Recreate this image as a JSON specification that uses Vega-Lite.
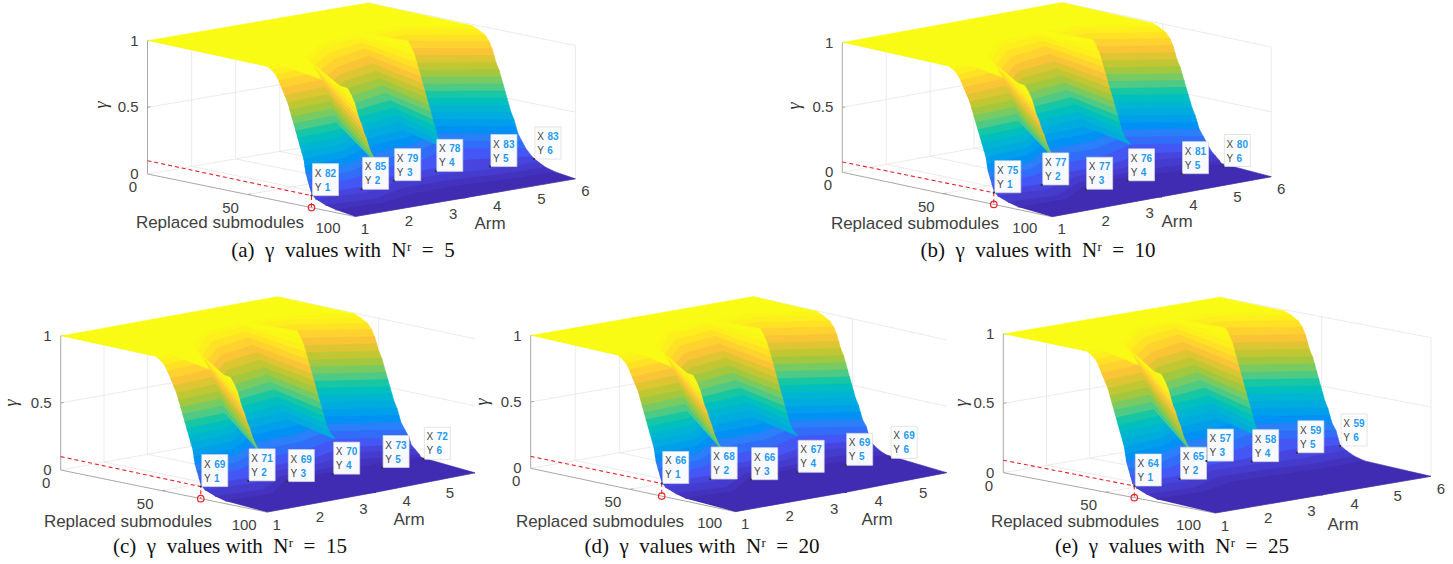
{"$schema":"https://vega.github.io/schema/vega-lite/v6.json","width":1453,"height":564,"padding":0,"autosize":{"type":"none"},"background":"white","config":{"view":{"stroke":null}},
"params":[{"name":"cam","value":{
"a":{"x":147.5,"y":174,"ax":44.1,"ay":-7.54,"sx":2,"sy":0.41,"z":133.3,"m":103.7,"clip":1453,"st":[220,223],"at":[490,224],"gt":[102,105],"cap":[343,251]},
"b":{"x":842.3,"y":172.3,"ax":43.9,"ay":-8,"sx":2.02,"sy":0.428,"z":129.7,"m":103.7,"clip":1453,"st":[915,224],"at":[1177,222],"gt":[795,106],"cap":[1038,251]},
"c":{"x":60.7,"y":470,"ax":43.3,"ay":-7.86,"sx":2.03,"sy":0.415,"z":134,"m":101.5,"clip":475,"st":[128,522],"at":[409,520],"gt":[12,403],"cap":[230,547]},
"d":{"x":530.7,"y":468.3,"ax":44.5,"ay":-7.8,"sx":1.985,"sy":0.421,"z":132.7,"m":103,"clip":946.7,"st":[600,522],"at":[877,520],"gt":[483,402],"cap":[702,547]},
"e":{"x":1003.3,"y":472.7,"ax":43.2,"ay":-7.34,"sx":2.047,"sy":0.39,"z":138.7,"m":103.4,"clip":1453,"st":[1075,522],"at":[1343,525],"gt":[962,403],"cap":[1172,547]}}}],
"datasets":{
"levels":[
{"panel":"a","gamma":1,"arm1":0,"arm2":0,"arm3":0,"arm4":0,"arm5":0,"arm6":0},
{"panel":"a","gamma":0.99,"arm1":60,"arm2":57,"arm3":42,"arm4":38,"arm5":36,"arm6":52},
{"panel":"a","gamma":0.97,"arm1":62,"arm2":59,"arm3":44,"arm4":39.5,"arm5":38,"arm6":55},
{"panel":"a","gamma":0.94,"arm1":64,"arm2":61,"arm3":47,"arm4":41,"arm5":40,"arm6":58.5},
{"panel":"a","gamma":0.9,"arm1":65.5,"arm2":63,"arm3":49.5,"arm4":42.5,"arm5":42,"arm6":60.5},
{"panel":"a","gamma":0.85,"arm1":67,"arm2":65,"arm3":51.5,"arm4":44.5,"arm5":44,"arm6":62},
{"panel":"a","gamma":0.8,"arm1":68.5,"arm2":66.5,"arm3":53,"arm4":46.5,"arm5":45.5,"arm6":63},
{"panel":"a","gamma":0.75,"arm1":70,"arm2":68,"arm3":54.5,"arm4":48,"arm5":46.5,"arm6":64},
{"panel":"a","gamma":0.7,"arm1":71,"arm2":69.5,"arm3":56,"arm4":50,"arm5":47.5,"arm6":65.5},
{"panel":"a","gamma":0.65,"arm1":72,"arm2":70.5,"arm3":58,"arm4":51.5,"arm5":48.5,"arm6":66.5},
{"panel":"a","gamma":0.6,"arm1":73,"arm2":71.5,"arm3":59.5,"arm4":53,"arm5":49.5,"arm6":67.5},
{"panel":"a","gamma":0.55,"arm1":74,"arm2":72.5,"arm3":60.5,"arm4":55,"arm5":50.5,"arm6":68.5},
{"panel":"a","gamma":0.5,"arm1":75,"arm2":73.5,"arm3":61.5,"arm4":57,"arm5":51.5,"arm6":69.5},
{"panel":"a","gamma":0.45,"arm1":76,"arm2":74.5,"arm3":63,"arm4":58.5,"arm5":52.5,"arm6":70.5},
{"panel":"a","gamma":0.4,"arm1":77,"arm2":75.5,"arm3":64,"arm4":60,"arm5":53.5,"arm6":71.5},
{"panel":"a","gamma":0.35,"arm1":78,"arm2":76,"arm3":65.5,"arm4":62,"arm5":54.5,"arm6":73},
{"panel":"a","gamma":0.3,"arm1":78.5,"arm2":77,"arm3":66.5,"arm4":64,"arm5":55.5,"arm6":74},
{"panel":"a","gamma":0.25,"arm1":79,"arm2":77.5,"arm3":68,"arm4":66,"arm5":56.5,"arm6":75},
{"panel":"a","gamma":0.2,"arm1":80,"arm2":78.5,"arm3":70,"arm4":68,"arm5":58,"arm6":77},
{"panel":"a","gamma":0.15,"arm1":81,"arm2":80,"arm3":73,"arm4":71,"arm5":61,"arm6":79},
{"panel":"a","gamma":0.1,"arm1":82,"arm2":84,"arm3":77,"arm4":76,"arm5":72,"arm6":82},
{"panel":"a","gamma":0.07,"arm1":84,"arm2":87,"arm3":80,"arm4":80,"arm5":85,"arm6":85},
{"panel":"a","gamma":0.04,"arm1":89,"arm2":92,"arm3":84,"arm4":84,"arm5":88,"arm6":89},
{"panel":"a","gamma":0.02,"arm1":94,"arm2":96,"arm3":90,"arm4":90,"arm5":93,"arm6":94},
{"panel":"b","gamma":1,"arm1":0,"arm2":0,"arm3":0,"arm4":0,"arm5":0,"arm6":0},
{"panel":"b","gamma":0.99,"arm1":53,"arm2":50,"arm3":33,"arm4":31,"arm5":31,"arm6":45},
{"panel":"b","gamma":0.97,"arm1":55,"arm2":52,"arm3":35,"arm4":32.5,"arm5":33,"arm6":48},
{"panel":"b","gamma":0.94,"arm1":57,"arm2":54,"arm3":38,"arm4":34,"arm5":35,"arm6":51.5},
{"panel":"b","gamma":0.9,"arm1":58.5,"arm2":56,"arm3":40.5,"arm4":35.5,"arm5":37,"arm6":53.5},
{"panel":"b","gamma":0.85,"arm1":60,"arm2":58,"arm3":42.5,"arm4":37.5,"arm5":39,"arm6":55},
{"panel":"b","gamma":0.8,"arm1":61.5,"arm2":59.5,"arm3":44,"arm4":39.5,"arm5":40.5,"arm6":56},
{"panel":"b","gamma":0.75,"arm1":63,"arm2":61,"arm3":45.5,"arm4":41,"arm5":41.5,"arm6":57},
{"panel":"b","gamma":0.7,"arm1":64,"arm2":62.5,"arm3":47,"arm4":43,"arm5":42.5,"arm6":58.5},
{"panel":"b","gamma":0.65,"arm1":65,"arm2":63.5,"arm3":49,"arm4":44.5,"arm5":43.5,"arm6":59.5},
{"panel":"b","gamma":0.6,"arm1":66,"arm2":64.5,"arm3":50.5,"arm4":46,"arm5":44.5,"arm6":60.5},
{"panel":"b","gamma":0.55,"arm1":67,"arm2":65.5,"arm3":51.5,"arm4":48,"arm5":45.5,"arm6":61.5},
{"panel":"b","gamma":0.5,"arm1":68,"arm2":66.5,"arm3":52.5,"arm4":50,"arm5":46.5,"arm6":62.5},
{"panel":"b","gamma":0.45,"arm1":69,"arm2":67.5,"arm3":54,"arm4":51.5,"arm5":47.5,"arm6":63.5},
{"panel":"b","gamma":0.4,"arm1":70,"arm2":68.5,"arm3":55,"arm4":53,"arm5":48.5,"arm6":64.5},
{"panel":"b","gamma":0.35,"arm1":71,"arm2":69,"arm3":56.5,"arm4":55,"arm5":49.5,"arm6":66},
{"panel":"b","gamma":0.3,"arm1":71.5,"arm2":70,"arm3":57.5,"arm4":57,"arm5":50.5,"arm6":67},
{"panel":"b","gamma":0.25,"arm1":72,"arm2":70.5,"arm3":59,"arm4":59,"arm5":51.5,"arm6":68},
{"panel":"b","gamma":0.2,"arm1":73,"arm2":71.5,"arm3":61,"arm4":61,"arm5":53,"arm6":70},
{"panel":"b","gamma":0.15,"arm1":74,"arm2":73,"arm3":64,"arm4":64,"arm5":56,"arm6":72},
{"panel":"b","gamma":0.1,"arm1":75,"arm2":77,"arm3":68,"arm4":68,"arm5":62,"arm6":74},
{"panel":"b","gamma":0.07,"arm1":77,"arm2":80,"arm3":71,"arm4":71,"arm5":68,"arm6":76},
{"panel":"b","gamma":0.04,"arm1":82,"arm2":85,"arm3":74,"arm4":73,"arm5":74,"arm6":78},
{"panel":"b","gamma":0.02,"arm1":87,"arm2":89,"arm3":76,"arm4":75,"arm5":79,"arm6":79},
{"panel":"c","gamma":1,"arm1":0,"arm2":0,"arm3":0,"arm4":0,"arm5":0,"arm6":0},
{"panel":"c","gamma":0.99,"arm1":47,"arm2":44,"arm3":27,"arm4":24,"arm5":25,"arm6":38},
{"panel":"c","gamma":0.97,"arm1":49,"arm2":46,"arm3":29,"arm4":25.5,"arm5":27,"arm6":41},
{"panel":"c","gamma":0.94,"arm1":51,"arm2":48,"arm3":32,"arm4":27,"arm5":29,"arm6":44.5},
{"panel":"c","gamma":0.9,"arm1":52.5,"arm2":50,"arm3":34.5,"arm4":28.5,"arm5":31,"arm6":46.5},
{"panel":"c","gamma":0.85,"arm1":54,"arm2":52,"arm3":36.5,"arm4":30.5,"arm5":33,"arm6":48},
{"panel":"c","gamma":0.8,"arm1":55.5,"arm2":53.5,"arm3":38,"arm4":32.5,"arm5":34.5,"arm6":49},
{"panel":"c","gamma":0.75,"arm1":57,"arm2":55,"arm3":39.5,"arm4":34,"arm5":35.5,"arm6":50},
{"panel":"c","gamma":0.7,"arm1":58,"arm2":56.5,"arm3":41,"arm4":36,"arm5":36.5,"arm6":51.5},
{"panel":"c","gamma":0.65,"arm1":59,"arm2":57.5,"arm3":43,"arm4":37.5,"arm5":37.5,"arm6":52.5},
{"panel":"c","gamma":0.6,"arm1":60,"arm2":58.5,"arm3":44.5,"arm4":39,"arm5":38.5,"arm6":53.5},
{"panel":"c","gamma":0.55,"arm1":61,"arm2":59.5,"arm3":45.5,"arm4":41,"arm5":39.5,"arm6":54.5},
{"panel":"c","gamma":0.5,"arm1":62,"arm2":60.5,"arm3":46.5,"arm4":43,"arm5":40.5,"arm6":55.5},
{"panel":"c","gamma":0.45,"arm1":63,"arm2":61.5,"arm3":48,"arm4":44.5,"arm5":41.5,"arm6":56.5},
{"panel":"c","gamma":0.4,"arm1":64,"arm2":62.5,"arm3":49,"arm4":46,"arm5":42.5,"arm6":57.5},
{"panel":"c","gamma":0.35,"arm1":65,"arm2":63,"arm3":50.5,"arm4":48,"arm5":43.5,"arm6":59},
{"panel":"c","gamma":0.3,"arm1":65.5,"arm2":64,"arm3":51.5,"arm4":50,"arm5":44.5,"arm6":60},
{"panel":"c","gamma":0.25,"arm1":66,"arm2":64.5,"arm3":53,"arm4":52,"arm5":45.5,"arm6":61},
{"panel":"c","gamma":0.2,"arm1":67,"arm2":65.5,"arm3":55,"arm4":54,"arm5":47,"arm6":63},
{"panel":"c","gamma":0.15,"arm1":68,"arm2":67,"arm3":58,"arm4":57,"arm5":50,"arm6":65},
{"panel":"c","gamma":0.1,"arm1":69,"arm2":71,"arm3":61,"arm4":61,"arm5":54,"arm6":66},
{"panel":"c","gamma":0.07,"arm1":71,"arm2":74,"arm3":63,"arm4":64,"arm5":58,"arm6":68},
{"panel":"c","gamma":0.04,"arm1":76,"arm2":79,"arm3":66,"arm4":67,"arm5":63,"arm6":70},
{"panel":"c","gamma":0.02,"arm1":81,"arm2":83,"arm3":68,"arm4":69,"arm5":69,"arm6":71},
{"panel":"d","gamma":1,"arm1":0,"arm2":0,"arm3":0,"arm4":0,"arm5":0,"arm6":0},
{"panel":"d","gamma":0.99,"arm1":44,"arm2":41,"arm3":23,"arm4":21,"arm5":20,"arm6":32},
{"panel":"d","gamma":0.97,"arm1":46,"arm2":43,"arm3":25,"arm4":22.5,"arm5":22,"arm6":35},
{"panel":"d","gamma":0.94,"arm1":48,"arm2":45,"arm3":28,"arm4":24,"arm5":24,"arm6":38.5},
{"panel":"d","gamma":0.9,"arm1":49.5,"arm2":47,"arm3":30.5,"arm4":25.5,"arm5":26,"arm6":40.5},
{"panel":"d","gamma":0.85,"arm1":51,"arm2":49,"arm3":32.5,"arm4":27.5,"arm5":28,"arm6":42},
{"panel":"d","gamma":0.8,"arm1":52.5,"arm2":50.5,"arm3":34,"arm4":29.5,"arm5":29.5,"arm6":43},
{"panel":"d","gamma":0.75,"arm1":54,"arm2":52,"arm3":35.5,"arm4":31,"arm5":30.5,"arm6":44},
{"panel":"d","gamma":0.7,"arm1":55,"arm2":53.5,"arm3":37,"arm4":33,"arm5":31.5,"arm6":45.5},
{"panel":"d","gamma":0.65,"arm1":56,"arm2":54.5,"arm3":39,"arm4":34.5,"arm5":32.5,"arm6":46.5},
{"panel":"d","gamma":0.6,"arm1":57,"arm2":55.5,"arm3":40.5,"arm4":36,"arm5":33.5,"arm6":47.5},
{"panel":"d","gamma":0.55,"arm1":58,"arm2":56.5,"arm3":41.5,"arm4":38,"arm5":34.5,"arm6":48.5},
{"panel":"d","gamma":0.5,"arm1":59,"arm2":57.5,"arm3":42.5,"arm4":40,"arm5":35.5,"arm6":49.5},
{"panel":"d","gamma":0.45,"arm1":60,"arm2":58.5,"arm3":44,"arm4":41.5,"arm5":36.5,"arm6":50.5},
{"panel":"d","gamma":0.4,"arm1":61,"arm2":59.5,"arm3":45,"arm4":43,"arm5":37.5,"arm6":51.5},
{"panel":"d","gamma":0.35,"arm1":62,"arm2":60,"arm3":46.5,"arm4":45,"arm5":38.5,"arm6":53},
{"panel":"d","gamma":0.3,"arm1":62.5,"arm2":61,"arm3":47.5,"arm4":47,"arm5":39.5,"arm6":54},
{"panel":"d","gamma":0.25,"arm1":63,"arm2":61.5,"arm3":49,"arm4":49,"arm5":40.5,"arm6":55},
{"panel":"d","gamma":0.2,"arm1":64,"arm2":62.5,"arm3":51,"arm4":51,"arm5":42,"arm6":57},
{"panel":"d","gamma":0.15,"arm1":65,"arm2":64,"arm3":54,"arm4":54,"arm5":45,"arm6":58},
{"panel":"d","gamma":0.1,"arm1":66,"arm2":68,"arm3":58,"arm4":58,"arm5":50,"arm6":59},
{"panel":"d","gamma":0.07,"arm1":68,"arm2":71,"arm3":60,"arm4":60,"arm5":55,"arm6":61},
{"panel":"d","gamma":0.04,"arm1":73,"arm2":76,"arm3":63,"arm4":63,"arm5":61,"arm6":64},
{"panel":"d","gamma":0.02,"arm1":78,"arm2":80,"arm3":65,"arm4":65,"arm5":66,"arm6":67},
{"panel":"e","gamma":1,"arm1":0,"arm2":0,"arm3":0,"arm4":0,"arm5":0,"arm6":0},
{"panel":"e","gamma":0.99,"arm1":41,"arm2":37,"arm3":21,"arm4":18,"arm5":18,"arm6":32},
{"panel":"e","gamma":0.97,"arm1":43,"arm2":39,"arm3":23,"arm4":19.5,"arm5":20,"arm6":35},
{"panel":"e","gamma":0.94,"arm1":45,"arm2":41,"arm3":26,"arm4":21,"arm5":22,"arm6":38.5},
{"panel":"e","gamma":0.9,"arm1":46.5,"arm2":43,"arm3":28.5,"arm4":22.5,"arm5":24,"arm6":40.5},
{"panel":"e","gamma":0.85,"arm1":48,"arm2":45,"arm3":30.5,"arm4":24.5,"arm5":26,"arm6":42},
{"panel":"e","gamma":0.8,"arm1":49.5,"arm2":46.5,"arm3":32,"arm4":26.5,"arm5":27.5,"arm6":43},
{"panel":"e","gamma":0.75,"arm1":51,"arm2":48,"arm3":33.5,"arm4":28,"arm5":28.5,"arm6":44},
{"panel":"e","gamma":0.7,"arm1":52,"arm2":49.5,"arm3":35,"arm4":30,"arm5":29.5,"arm6":45.5},
{"panel":"e","gamma":0.65,"arm1":53,"arm2":50.5,"arm3":37,"arm4":31.5,"arm5":30.5,"arm6":46.5},
{"panel":"e","gamma":0.6,"arm1":54,"arm2":51.5,"arm3":38.5,"arm4":33,"arm5":31.5,"arm6":47.5},
{"panel":"e","gamma":0.55,"arm1":55,"arm2":52.5,"arm3":39.5,"arm4":35,"arm5":32.5,"arm6":48.5},
{"panel":"e","gamma":0.5,"arm1":56,"arm2":53.5,"arm3":40.5,"arm4":37,"arm5":33.5,"arm6":49.5},
{"panel":"e","gamma":0.45,"arm1":57,"arm2":54.5,"arm3":42,"arm4":38.5,"arm5":34.5,"arm6":50.5},
{"panel":"e","gamma":0.4,"arm1":58,"arm2":55.5,"arm3":43,"arm4":40,"arm5":35.5,"arm6":51.5},
{"panel":"e","gamma":0.35,"arm1":59,"arm2":56,"arm3":44.5,"arm4":42,"arm5":36.5,"arm6":53},
{"panel":"e","gamma":0.3,"arm1":59.5,"arm2":57,"arm3":45.5,"arm4":44,"arm5":37.5,"arm6":54},
{"panel":"e","gamma":0.25,"arm1":60,"arm2":57.5,"arm3":47,"arm4":46,"arm5":38.5,"arm6":55},
{"panel":"e","gamma":0.2,"arm1":61,"arm2":58.5,"arm3":49,"arm4":48,"arm5":40,"arm6":57},
{"panel":"e","gamma":0.15,"arm1":62,"arm2":60,"arm3":52,"arm4":51,"arm5":43,"arm6":58},
{"panel":"e","gamma":0.1,"arm1":63,"arm2":64,"arm3":56,"arm4":56,"arm5":54,"arm6":59},
{"panel":"e","gamma":0.07,"arm1":65,"arm2":67,"arm3":59,"arm4":60,"arm5":63,"arm6":62},
{"panel":"e","gamma":0.04,"arm1":70,"arm2":72,"arm3":63,"arm4":64,"arm5":67,"arm6":66},
{"panel":"e","gamma":0.02,"arm1":75,"arm2":76,"arm3":69,"arm4":70,"arm5":72,"arm6":71}
],
"frame":[
{"seg":"g1","kind":"grid","arm":1,"s":0,"g":0.5},{"seg":"g1","kind":"grid","arm":6,"s":0,"g":0.5},
{"seg":"g2","kind":"grid","arm":2,"s":0,"g":0},{"seg":"g2","kind":"grid","arm":2,"s":0,"g":1},
{"seg":"g3","kind":"grid","arm":3,"s":0,"g":0},{"seg":"g3","kind":"grid","arm":3,"s":0,"g":1},
{"seg":"g4","kind":"grid","arm":4,"s":0,"g":0},{"seg":"g4","kind":"grid","arm":4,"s":0,"g":1},
{"seg":"g5","kind":"grid","arm":5,"s":0,"g":0},{"seg":"g5","kind":"grid","arm":5,"s":0,"g":1},
{"seg":"g6","kind":"grid","arm":1,"s":0,"g":0},{"seg":"g6","kind":"grid","arm":6,"s":0,"g":0},
{"seg":"g7","kind":"grid","arm":1,"s":50,"g":0},{"seg":"g7","kind":"grid","arm":6,"s":50,"g":0},
{"seg":"g8","kind":"grid","arm":2,"s":0,"g":0},{"seg":"g8","kind":"grid","arm":2,"s":104,"g":0},
{"seg":"g9","kind":"grid","arm":3,"s":0,"g":0},{"seg":"g9","kind":"grid","arm":3,"s":104,"g":0},
{"seg":"g10","kind":"grid","arm":4,"s":0,"g":0},{"seg":"g10","kind":"grid","arm":4,"s":104,"g":0},
{"seg":"g11","kind":"grid","arm":5,"s":0,"g":0},{"seg":"g11","kind":"grid","arm":5,"s":104,"g":0},
{"seg":"g12","kind":"grid","arm":6,"s":0,"g":0},{"seg":"g12","kind":"grid","arm":6,"s":104,"g":0},
{"seg":"g13","kind":"grid","arm":6,"s":0,"g":0.5},{"seg":"g13","kind":"grid","arm":6,"s":104,"g":0.5},
{"seg":"g14","kind":"grid","arm":6,"s":0,"g":1},{"seg":"g14","kind":"grid","arm":6,"s":104,"g":1},
{"seg":"g15","kind":"grid","arm":6,"s":50,"g":0},{"seg":"g15","kind":"grid","arm":6,"s":50,"g":1},
{"seg":"edge","kind":"grid","arm":6,"s":104,"g":0},{"seg":"edge","kind":"grid","arm":6,"s":104,"g":1},
{"seg":"a1","kind":"axis","arm":1,"s":0,"g":0},{"seg":"a1","kind":"axis","arm":1,"s":0,"g":1},
{"seg":"a2","kind":"axis","arm":1,"s":0,"g":0},{"seg":"a2","kind":"axis","arm":1,"s":104,"g":0},
{"seg":"a3","kind":"axis","arm":1,"s":104,"g":0},{"seg":"a3","kind":"axis","arm":6,"s":104,"g":0},
{"seg":"t1","kind":"axis","arm":1,"s":0,"g":0.5},{"seg":"t1","kind":"axis","arm":1.07,"s":0,"g":0.5},
{"seg":"t2","kind":"axis","arm":1,"s":0,"g":1},{"seg":"t2","kind":"axis","arm":1.07,"s":0,"g":1},
{"seg":"t3","kind":"axis","arm":1,"s":50,"g":0},{"seg":"t3","kind":"axis","arm":1.07,"s":50,"g":0}
],
"tips":[
{"panel":"a","arm":1,"sub":82,"gamma":0.09},{"panel":"a","arm":2,"sub":85,"gamma":0.09},{"panel":"a","arm":3,"sub":79,"gamma":0.08},{"panel":"a","arm":4,"sub":78,"gamma":0.09},{"panel":"a","arm":5,"sub":83,"gamma":0.085},{"panel":"a","arm":6,"sub":83,"gamma":0.085},
{"panel":"b","arm":1,"sub":75,"gamma":0.09},{"panel":"b","arm":2,"sub":77,"gamma":0.095},{"panel":"b","arm":3,"sub":77,"gamma":0},{"panel":"b","arm":4,"sub":76,"gamma":0},{"panel":"b","arm":5,"sub":81,"gamma":0.01},{"panel":"b","arm":6,"sub":80,"gamma":0},
{"panel":"c","arm":1,"sub":69,"gamma":0.09},{"panel":"c","arm":2,"sub":71,"gamma":0.08},{"panel":"c","arm":3,"sub":69,"gamma":0.01},{"panel":"c","arm":4,"sub":70,"gamma":0.01},{"panel":"c","arm":5,"sub":73,"gamma":0.01},{"panel":"c","arm":6,"sub":72,"gamma":0.01},
{"panel":"d","arm":1,"sub":66,"gamma":0.095},{"panel":"d","arm":2,"sub":68,"gamma":0.076},{"panel":"d","arm":3,"sub":66,"gamma":0.006},{"panel":"d","arm":4,"sub":67,"gamma":0.006},{"panel":"d","arm":5,"sub":69,"gamma":0.006},{"panel":"d","arm":6,"sub":69,"gamma":0},
{"panel":"e","arm":1,"sub":64,"gamma":0.084},{"panel":"e","arm":2,"sub":65,"gamma":0.083},{"panel":"e","arm":3,"sub":57,"gamma":0.138},{"panel":"e","arm":4,"sub":58,"gamma":0.084},{"panel":"e","arm":5,"sub":59,"gamma":0.098},{"panel":"e","arm":6,"sub":59,"gamma":0.094}
],
"marker":[
{"panel":"a","step":1,"s":0,"g":0.1},{"panel":"a","step":2,"s":82,"g":0.09},{"panel":"a","step":3,"s":82,"g":0},
{"panel":"b","step":1,"s":0,"g":0.08},{"panel":"b","step":2,"s":75,"g":0.09},{"panel":"b","step":3,"s":75,"g":0},
{"panel":"c","step":1,"s":0,"g":0.1},{"panel":"c","step":2,"s":69,"g":0.09},{"panel":"c","step":3,"s":69,"g":0},
{"panel":"d","step":1,"s":0,"g":0.09},{"panel":"d","step":2,"s":66,"g":0.095},{"panel":"d","step":3,"s":66,"g":0},
{"panel":"e","step":1,"s":0,"g":0.09},{"panel":"e","step":2,"s":64,"g":0.084},{"panel":"e","step":3,"s":64,"g":0}
],
"ticks":[
{"axis":"z","value":0},{"axis":"z","value":0.5},{"axis":"z","value":1},
{"axis":"s","value":0},{"axis":"s","value":50},{"axis":"s","value":100},
{"axis":"arm","value":1},{"axis":"arm","value":2},{"axis":"arm","value":3},{"axis":"arm","value":4},{"axis":"arm","value":5},{"axis":"arm","value":6}
],
"panels":[
{"panel":"a","caption":"(a) γ values with Nʳ = 5"},{"panel":"b","caption":"(b) γ values with Nʳ = 10"},{"panel":"c","caption":"(c) γ values with Nʳ = 15"},{"panel":"d","caption":"(d) γ values with Nʳ = 20"},{"panel":"e","caption":"(e) γ values with Nʳ = 25"}
]},
"encoding":{"x":{"field":"px","type":"quantitative","axis":null,"scale":{"domain":[0,1453],"nice":false,"zero":false}},"y":{"field":"py","type":"quantitative","axis":null,"scale":{"domain":[0,564],"nice":false,"zero":false,"reverse":true}}},
"layer":[
{"data":{"name":"frame"},"transform":[{"filter":"datum.kind=='grid'"},{"calculate":"['a','b','c','d','e']","as":"panel"},{"flatten":["panel"]},{"filter":"!(datum.seg=='edge'&&(datum.panel=='c'||datum.panel=='d'))"},{"calculate":"datum.panel+datum.seg","as":"key"},{"calculate":"min(datum.s,cam[datum.panel].m)","as":"sp"},{"calculate":"min(cam[datum.panel].x+(datum.arm-1)*cam[datum.panel].ax+datum.sp*cam[datum.panel].sx,cam[datum.panel].clip)","as":"px"},{"calculate":"cam[datum.panel].y+(datum.arm-1)*cam[datum.panel].ay+datum.sp*cam[datum.panel].sy-datum.g*cam[datum.panel].z","as":"py"}],"mark":{"type":"line","stroke":"#e6e6e6","strokeWidth":0.8},"encoding":{"detail":{"field":"key"}}},
{"data":{"name":"frame"},"transform":[{"filter":"datum.kind=='axis'"},{"calculate":"['a','b','c','d','e']","as":"panel"},{"flatten":["panel"]},{"calculate":"datum.panel+datum.seg","as":"key"},{"calculate":"min(datum.s,cam[datum.panel].m)","as":"sp"},{"calculate":"min(cam[datum.panel].x+(datum.arm-1)*cam[datum.panel].ax+datum.sp*cam[datum.panel].sx,cam[datum.panel].clip)","as":"px"},{"calculate":"cam[datum.panel].y+(datum.arm-1)*cam[datum.panel].ay+datum.sp*cam[datum.panel].sy-datum.g*cam[datum.panel].z","as":"py"}],"mark":{"type":"line","stroke":"#a8a8a8","strokeWidth":1},"encoding":{"detail":{"field":"key"}}},
{"data":{"name":"levels"},"transform":[
{"window":[{"op":"lead","field":"arm1","as":"next1"},{"op":"lead","field":"arm6","as":"next6"},{"op":"lead","field":"gamma","as":"gnext"}],"groupby":["panel"],"sort":[{"field":"gamma","order":"descending"}]},
{"fold":["arm1","arm2","arm3","arm4","arm5","arm6","next6","floor","next1"]},
{"calculate":"indexof(['arm1','arm2','arm3','arm4','arm5','arm6','next6','floor','next1'],datum.key)","as":"ord"},
{"calculate":"[1,2,3,4,5,6,6,3.5,1][datum.ord]","as":"arm"},
{"calculate":"(datum.ord==7||datum.value==null)?cam[datum.panel].m:datum.value","as":"s"},
{"calculate":"datum.ord<6?datum.gamma:((datum.ord==7||datum.gnext==null)?0:datum.gnext)","as":"g"},
{"calculate":"datum.panel+'_'+(1000-datum.gamma*100)","as":"band"},
{"calculate":"min(cam[datum.panel].x+(datum.arm-1)*cam[datum.panel].ax+datum.s*cam[datum.panel].sx,cam[datum.panel].clip)","as":"px"},
{"calculate":"cam[datum.panel].y+(datum.arm-1)*cam[datum.panel].ay+datum.s*cam[datum.panel].sy-datum.g*cam[datum.panel].z","as":"py"}],
"mark":{"type":"line","strokeWidth":0.6,"strokeJoin":"round"},
"encoding":{"detail":{"field":"band"},"order":{"field":"ord","type":"quantitative"},
"fill":{"field":"gamma","type":"quantitative","legend":null,"scale":{"domain":[0,0.14,0.27,0.43,0.57,0.71,0.86,1],"range":["#3e26a8","#4852f4","#2d87f7","#12b1d6","#37c897","#abc739","#fec338","#f9fb15"]}},
"stroke":{"field":"gamma","type":"quantitative","legend":null,"scale":{"domain":[0,0.14,0.27,0.43,0.57,0.71,0.86,1],"range":["#3e26a8","#4852f4","#2d87f7","#12b1d6","#37c897","#abc739","#fec338","#f9fb15"]}}}},
{"data":{"name":"levels"},"transform":[
{"window":[{"op":"lead","field":"arm2","param":1,"as":"l1"},{"op":"lead","field":"gamma","param":1,"as":"gl1"},{"op":"lead","field":"arm3","param":8,"as":"r0"},{"op":"lead","field":"gamma","param":8,"as":"gr0"},{"op":"lead","field":"arm3","param":9,"as":"r1"},{"op":"lead","field":"gamma","param":9,"as":"gr1"}],"groupby":["panel"],"sort":[{"field":"gamma","order":"descending"}]},
{"filter":"datum.r1!=null&&datum.gr1>0.12"},
{"calculate":"[0,1,2,3]","as":"ord"},{"flatten":["ord"]},
{"calculate":"datum.ord==0||datum.ord==3?2:3","as":"arm"},
{"calculate":"[datum.arm2,datum.r0,datum.r1,datum.l1][datum.ord]","as":"s"},
{"calculate":"[datum.gamma,datum.gr0,datum.gr1,datum.gl1][datum.ord]","as":"g"},
{"calculate":"datum.panel+'_'+(1000-datum.gamma*100)","as":"band"},
{"calculate":"cam[datum.panel].x+(datum.arm-1)*cam[datum.panel].ax+datum.s*cam[datum.panel].sx","as":"px"},
{"calculate":"cam[datum.panel].y+(datum.arm-1)*cam[datum.panel].ay+datum.s*cam[datum.panel].sy-datum.g*cam[datum.panel].z","as":"py"}],
"mark":{"type":"line","strokeWidth":0.4,"strokeJoin":"round"},
"encoding":{"detail":{"field":"band"},"order":{"field":"ord","type":"quantitative"},
"fill":{"field":"gamma","type":"quantitative","legend":null,"scale":{"domain":[0,0.14,0.27,0.43,0.57,0.71,0.86,1],"range":["#3e26a8","#4852f4","#2d87f7","#12b1d6","#37c897","#abc739","#fec338","#f9fb15"]}},
"stroke":{"field":"gamma","type":"quantitative","legend":null,"scale":{"domain":[0,0.14,0.27,0.43,0.57,0.71,0.86,1],"range":["#3e26a8","#4852f4","#2d87f7","#12b1d6","#37c897","#abc739","#fec338","#f9fb15"]}}}},
{"data":{"name":"levels"},"transform":[
{"window":[{"op":"lead","field":"arm4","param":1,"as":"l1"},{"op":"lead","field":"gamma","param":1,"as":"gl1"},{"op":"lead","field":"arm5","param":4,"as":"r0"},{"op":"lead","field":"gamma","param":4,"as":"gr0"},{"op":"lead","field":"arm5","param":5,"as":"r1"},{"op":"lead","field":"gamma","param":5,"as":"gr1"}],"groupby":["panel"],"sort":[{"field":"gamma","order":"descending"}]},
{"filter":"datum.r1!=null&&datum.gr1>0.1"},
{"calculate":"[0,1,2,3]","as":"ord"},{"flatten":["ord"]},
{"calculate":"datum.ord==0||datum.ord==3?4:5","as":"arm"},
{"calculate":"[datum.arm4,datum.r0,datum.r1,datum.l1][datum.ord]","as":"s"},
{"calculate":"[datum.gamma,datum.gr0,datum.gr1,datum.gl1][datum.ord]","as":"g"},
{"calculate":"datum.panel+'_'+(1000-datum.gamma*100)","as":"band"},
{"calculate":"cam[datum.panel].x+(datum.arm-1)*cam[datum.panel].ax+datum.s*cam[datum.panel].sx","as":"px"},
{"calculate":"cam[datum.panel].y+(datum.arm-1)*cam[datum.panel].ay+datum.s*cam[datum.panel].sy-datum.g*cam[datum.panel].z","as":"py"}],
"mark":{"type":"line","strokeWidth":0.4,"strokeJoin":"round"},
"encoding":{"detail":{"field":"band"},"order":{"field":"ord","type":"quantitative"},
"fill":{"field":"gamma","type":"quantitative","legend":null,"scale":{"domain":[0,0.14,0.27,0.43,0.57,0.71,0.86,1],"range":["#3e26a8","#4852f4","#2d87f7","#12b1d6","#37c897","#abc739","#fec338","#f9fb15"]}},
"stroke":{"field":"gamma","type":"quantitative","legend":null,"scale":{"domain":[0,0.14,0.27,0.43,0.57,0.71,0.86,1],"range":["#3e26a8","#4852f4","#2d87f7","#12b1d6","#37c897","#abc739","#fec338","#f9fb15"]}}}},
{"data":{"name":"marker"},"transform":[{"calculate":"cam[datum.panel].x+datum.s*cam[datum.panel].sx","as":"px"},{"calculate":"cam[datum.panel].y+datum.s*cam[datum.panel].sy-datum.g*cam[datum.panel].z","as":"py"}],"mark":{"type":"line","stroke":"#e8232a","strokeWidth":1.1,"strokeDash":[4,3]},"encoding":{"detail":{"field":"panel"},"order":{"field":"step","type":"quantitative"}}},
{"data":{"name":"marker"},"transform":[{"filter":"datum.step==3"},{"calculate":"cam[datum.panel].x+datum.s*cam[datum.panel].sx","as":"px"},{"calculate":"cam[datum.panel].y+datum.s*cam[datum.panel].sy-datum.g*cam[datum.panel].z","as":"py"}],"mark":{"type":"point","shape":"circle","size":42,"filled":false,"stroke":"#e8232a","strokeWidth":1.2,"opacity":1}},
{"data":{"name":"tips"},"transform":[{"calculate":"cam[datum.panel].x+(datum.arm-1)*cam[datum.panel].ax+datum.sub*cam[datum.panel].sx+1","as":"px"},{"calculate":"datum.px+26","as":"bx"},{"calculate":"cam[datum.panel].y+(datum.arm-1)*cam[datum.panel].ay+datum.sub*cam[datum.panel].sy-datum.gamma*cam[datum.panel].z","as":"py"},{"calculate":"datum.py-32","as":"by"}],"mark":{"type":"rect","fill":"white","fillOpacity":0.97,"stroke":"#d4d8dc","strokeWidth":0.7},"encoding":{"x2":{"field":"bx"},"y2":{"field":"by"}}},
{"data":{"name":"tips"},"transform":[{"calculate":"cam[datum.panel].x+(datum.arm-1)*cam[datum.panel].ax+datum.sub*cam[datum.panel].sx","as":"px"},{"calculate":"cam[datum.panel].y+(datum.arm-1)*cam[datum.panel].ay+datum.sub*cam[datum.panel].sy-datum.gamma*cam[datum.panel].z","as":"py"}],"mark":{"type":"point","shape":"circle","size":5,"filled":true,"fill":"#333333","opacity":1}},
{"data":{"name":"tips"},"transform":[{"calculate":"cam[datum.panel].x+(datum.arm-1)*cam[datum.panel].ax+datum.sub*cam[datum.panel].sx","as":"px"},{"calculate":"cam[datum.panel].y+(datum.arm-1)*cam[datum.panel].ay+datum.sub*cam[datum.panel].sy-datum.gamma*cam[datum.panel].z","as":"py"}],"mark":{"type":"text","text":"X","font":"Liberation Sans","fontSize":10,"fill":"#444444","dx":6.5,"dy":-22,"align":"center","baseline":"middle"}},
{"data":{"name":"tips"},"transform":[{"calculate":"cam[datum.panel].x+(datum.arm-1)*cam[datum.panel].ax+datum.sub*cam[datum.panel].sx","as":"px"},{"calculate":"cam[datum.panel].y+(datum.arm-1)*cam[datum.panel].ay+datum.sub*cam[datum.panel].sy-datum.gamma*cam[datum.panel].z","as":"py"}],"mark":{"type":"text","text":"Y","font":"Liberation Sans","fontSize":10,"fill":"#444444","dx":6.5,"dy":-8,"align":"center","baseline":"middle"}},
{"data":{"name":"tips"},"transform":[{"calculate":"cam[datum.panel].x+(datum.arm-1)*cam[datum.panel].ax+datum.sub*cam[datum.panel].sx","as":"px"},{"calculate":"cam[datum.panel].y+(datum.arm-1)*cam[datum.panel].ay+datum.sub*cam[datum.panel].sy-datum.gamma*cam[datum.panel].z","as":"py"}],"mark":{"type":"text","font":"Liberation Sans","fontSize":10,"fontWeight":"bold","fill":"#1e9bf0","dx":19,"dy":-22,"align":"center","baseline":"middle"},"encoding":{"text":{"field":"sub","type":"quantitative"}}},
{"data":{"name":"tips"},"transform":[{"calculate":"cam[datum.panel].x+(datum.arm-1)*cam[datum.panel].ax+datum.sub*cam[datum.panel].sx","as":"px"},{"calculate":"cam[datum.panel].y+(datum.arm-1)*cam[datum.panel].ay+datum.sub*cam[datum.panel].sy-datum.gamma*cam[datum.panel].z","as":"py"}],"mark":{"type":"text","font":"Liberation Sans","fontSize":10,"fontWeight":"bold","fill":"#1e9bf0","dx":16,"dy":-8,"align":"center","baseline":"middle"},"encoding":{"text":{"field":"arm","type":"quantitative"}}},
{"data":{"name":"ticks"},"transform":[{"calculate":"['a','b','c','d','e']","as":"panel"},{"flatten":["panel"]},{"filter":"datum.axis=='z'"},{"calculate":"cam[datum.panel].x","as":"px"},{"calculate":"cam[datum.panel].y-datum.value*cam[datum.panel].z","as":"py"}],"mark":{"type":"text","font":"Liberation Sans","fontSize":15,"fill":"#404040","align":"right","baseline":"middle","dx":-9},"encoding":{"text":{"field":"value","type":"quantitative"}}},
{"data":{"name":"ticks"},"transform":[{"calculate":"['a','b','c','d','e']","as":"panel"},{"flatten":["panel"]},{"filter":"datum.axis=='s'"},{"calculate":"cam[datum.panel].x+datum.value*cam[datum.panel].sx-14.5-datum.value*0.05","as":"px"},{"calculate":"cam[datum.panel].y+datum.value*cam[datum.panel].sy+13","as":"py"}],"mark":{"type":"text","font":"Liberation Sans","fontSize":15,"fill":"#404040","align":"center","baseline":"middle"},"encoding":{"text":{"field":"value","type":"quantitative"}}},
{"data":{"name":"ticks"},"transform":[{"calculate":"['a','b','c','d','e']","as":"panel"},{"flatten":["panel"]},{"filter":"datum.axis=='arm'&&!(datum.value==6&&(datum.panel=='c'||datum.panel=='d'))"},{"calculate":"cam[datum.panel].x+(datum.value-1)*cam[datum.panel].ax+cam[datum.panel].m*cam[datum.panel].sx+10","as":"px"},{"calculate":"cam[datum.panel].y+(datum.value-1)*cam[datum.panel].ay+cam[datum.panel].m*cam[datum.panel].sy+12.5","as":"py"}],"mark":{"type":"text","font":"Liberation Sans","fontSize":15,"fill":"#404040","align":"center","baseline":"middle"},"encoding":{"text":{"field":"value","type":"quantitative"}}},
{"data":{"name":"panels"},"transform":[{"calculate":"cam[datum.panel].st[0]","as":"px"},{"calculate":"cam[datum.panel].st[1]","as":"py"}],"mark":{"type":"text","text":"Replaced submodules","font":"Liberation Sans","fontSize":17,"fill":"#404040","align":"center","baseline":"middle"}},
{"data":{"name":"panels"},"transform":[{"calculate":"cam[datum.panel].at[0]","as":"px"},{"calculate":"cam[datum.panel].at[1]","as":"py"}],"mark":{"type":"text","text":"Arm","font":"Liberation Sans","fontSize":17,"fill":"#404040","align":"center","baseline":"middle"}},
{"data":{"name":"panels"},"transform":[{"calculate":"cam[datum.panel].gt[0]","as":"px"},{"calculate":"cam[datum.panel].gt[1]","as":"py"}],"mark":{"type":"text","text":"γ","font":"Liberation Serif","fontStyle":"italic","fontSize":18,"fill":"#303030","angle":270,"align":"center","baseline":"middle"}},
{"data":{"name":"panels"},"transform":[{"calculate":"cam[datum.panel].cap[0]","as":"px"},{"calculate":"cam[datum.panel].cap[1]","as":"py"},{"calculate":"replace(replace(replace(replace(datum.caption,') ',')\u2002'),' values','\u2002values'),' N','\u2002N'),' = ','\u2002=\u2002')","as":"label"}],"mark":{"type":"text","font":"Liberation Serif","fontSize":21,"fill":"#111111","align":"center","baseline":"middle"},"encoding":{"text":{"field":"label"}}}
]}
